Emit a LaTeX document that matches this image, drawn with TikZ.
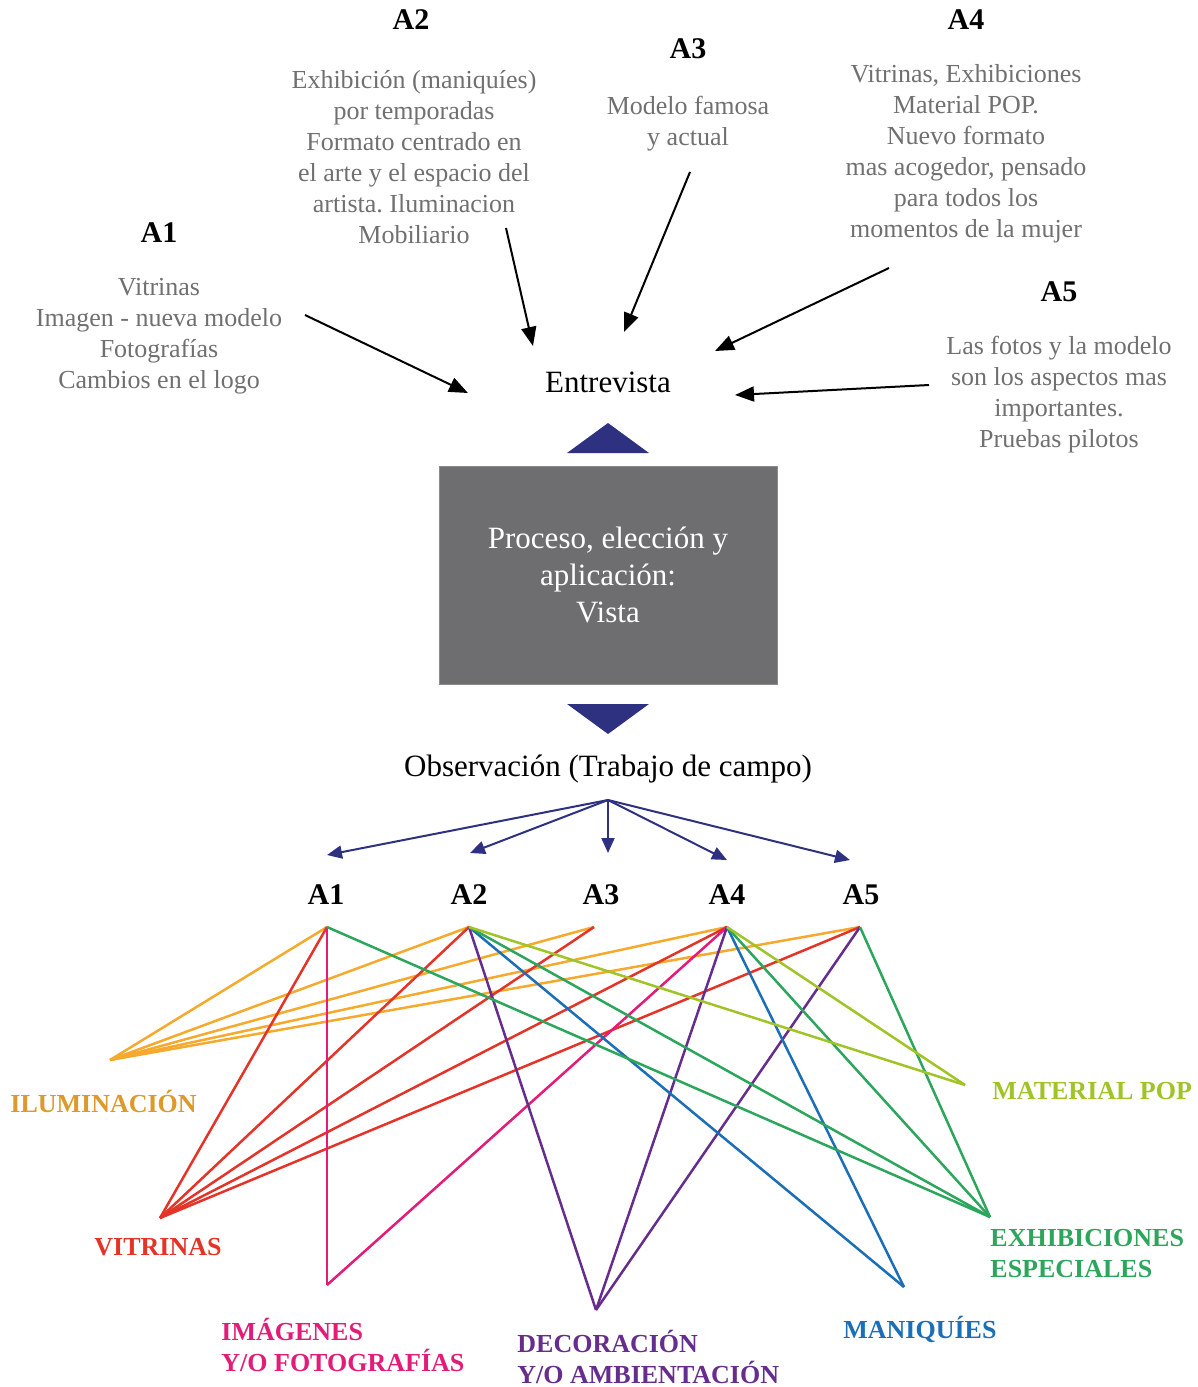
\documentclass[tikz,border=0pt]{standalone}
\usepackage{fontspec}
\setmainfont{Liberation Serif}
\usetikzlibrary{arrows.meta}
\frenchspacing
\definecolor{txtgray}{RGB}{112,112,112}
\definecolor{boxgray}{RGB}{110,109,111}
\definecolor{navy}{RGB}{46,49,128}
\definecolor{corange}{RGB}{245,170,45}
\definecolor{cred}{RGB}{228,52,40}
\definecolor{cpink}{RGB}{226,28,120}
\definecolor{cpurple}{RGB}{102,45,140}
\definecolor{cblue}{RGB}{28,110,182}
\definecolor{cgreen}{RGB}{44,166,92}
\definecolor{clime}{RGB}{160,196,40}
\tikzset{
  desc/.style={text=txtgray, font=\fontsize{13}{15.5}\selectfont, align=center, inner sep=0},
  head/.style={font=\fontsize{15}{18}\selectfont\bfseries, inner sep=0},
  mainlbl/.style={font=\fontsize{15.5}{18.5}\selectfont, inner sep=0},
  catlbl/.style={font=\fontsize{13}{15.5}\selectfont\bfseries, inner sep=0, align=left, anchor=west},
  inarrow/.style={-{Triangle[length=9.5pt,width=7.5pt]}, line width=1pt, black},
  outarrow/.style={-{Triangle[length=7.5pt,width=6.5pt]}, line width=1pt, navy},
  web/.style={line width=1.25pt},
  tri/.style={fill=navy, draw=none}
}
\begin{document}
\begin{tikzpicture}[x=0.5pt,y=-0.5pt]
\useasboundingbox (0,0) rectangle (1198,1387);

% ---- top section ----
\node[head] (h1) at (159,233) {A1};
\node[desc] (d1) at (159,336) {Vitrinas\\Imagen - nueva modelo\\Fotografías\\Cambios en el logo};
\node[head] (h2) at (411,20) {A2};
\node[desc] (d2) at (414,157) {Exhibición (maniquíes)\\por temporadas\\Formato centrado en\\el arte y el espacio del\\artista. Iluminacion\\Mobiliario};
\node[head] (h3) at (688,49) {A3};
\node[desc] (d3) at (688,124) {Modelo famosa\\y actual};
\node[head] (h4) at (966,20) {A4};
\node[desc] (d4) at (966,154) {Vitrinas, Exhibiciones\\Material POP.\\Nuevo formato\\mas acogedor, pensado\\para todos los\\momentos de la mujer};
\node[head] (h5) at (1059,292) {A5};
\node[desc] (d5) at (1059,395) {Las fotos y la modelo\\son los aspectos mas\\importantes.\\Pruebas pilotos};

\node[mainlbl] (ent) at (608,382) {Entrevista};

\coordinate (s1) at (305,315); \coordinate (t1) at (468,393);
\coordinate (s2) at (506,228); \coordinate (t2) at (533,346);
\coordinate (s3) at (690,172); \coordinate (t3) at (624,332);
\coordinate (s4) at (889,268); \coordinate (t4) at (715,351);
\coordinate (s5) at (929,385); \coordinate (t5) at (735,395);
\draw[inarrow] (s1) -- (t1);
\draw[inarrow] (s2) -- (t2);
\draw[inarrow] (s3) -- (t3);
\draw[inarrow] (s4) -- (t4);
\draw[inarrow] (s5) -- (t5);

% triangles and box
\fill[tri] (567,453) -- (608,423) -- (649,453) -- cycle;
\node[fill=boxgray, draw=boxgray!80!white, line width=0.4pt, minimum width=169pt, minimum height=109pt, inner sep=0,
      text=white, font=\fontsize{15.5}{18.5}\selectfont, align=center] (box) at (608,575)
      {Proceso, elección y\\aplicación:\\Vista};
\fill[tri] (567,704) -- (649,704) -- (608,734) -- cycle;

\node[mainlbl] (obs) at (608,769) {Observación (Trabajo de campo)};

% ---- A labels ----
\node[head] (b1) at (326,895) {A1};
\node[head] (b2) at (469,895) {A2};
\node[head] (b3) at (601,895) {A3};
\node[head] (b4) at (727,895) {A4};
\node[head] (b5) at (861,895) {A5};

\coordinate (o) at (608,800);
\coordinate (e1) at (327,855);
\coordinate (e2) at (470,853);
\coordinate (e3) at (608,853);
\coordinate (e4) at (727,860);
\coordinate (e5) at (850,860);
\foreach \e in {e1,e2,e3,e4,e5} \draw[outarrow] (o) -- (\e);

% ---- web ----
\coordinate (p1) at (327,927);
\coordinate (p2) at (469,927);
\coordinate (p3) at (594,927);
\coordinate (p4) at (727,927);
\coordinate (p5) at (860,927);
\coordinate (ilum) at (110,1060);
\coordinate (vitr) at (160,1218);
\coordinate (imag) at (327,1285);
\coordinate (deco) at (596,1310);
\coordinate (maniq) at (904,1287);
\coordinate (exhib) at (990,1217);
\coordinate (mpop) at (965,1085);

\foreach \p in {p1,p2,p3,p4,p5} \draw[web, corange] (ilum) -- (\p);
\foreach \p in {p1,p2,p3,p4,p5} \draw[web, cred] (vitr) -- (\p);
\foreach \p in {p1,p4} \draw[web, cpink] (imag) -- (\p);
\foreach \p in {p2,p4,p5} \draw[web, cpurple] (deco) -- (\p);
\foreach \p in {p2,p4} \draw[web, cblue] (maniq) -- (\p);
\foreach \p in {p1,p2,p4,p5} \draw[web, cgreen] (exhib) -- (\p);
\foreach \p in {p2,p4} \draw[web, clime] (mpop) -- (\p);

% ---- category labels ----
\node[catlbl, text=corange!90!black] (lilum) at (10,1101) {ILUMINACIÓN};
\node[catlbl, text=cred] (lvitr) at (94,1247) {VITRINAS};
\node[catlbl, text=cpink] (limag) at (221,1345) {IMÁGENES\\Y/O FOTOGRAFÍAS};
\node[catlbl, text=cpurple] (ldeco) at (517,1357) {DECORACIÓN\\Y/O AMBIENTACIÓN};
\node[catlbl, text=cblue] (lmaniq) at (843,1329) {MANIQUÍES};
\node[catlbl, text=cgreen] (lexhib) at (990,1254) {EXHIBICIONES\\ESPECIALES};
\node[catlbl, text=clime] (lmpop) at (992,1091) {MATERIAL POP};
\end{tikzpicture}
\end{document}
